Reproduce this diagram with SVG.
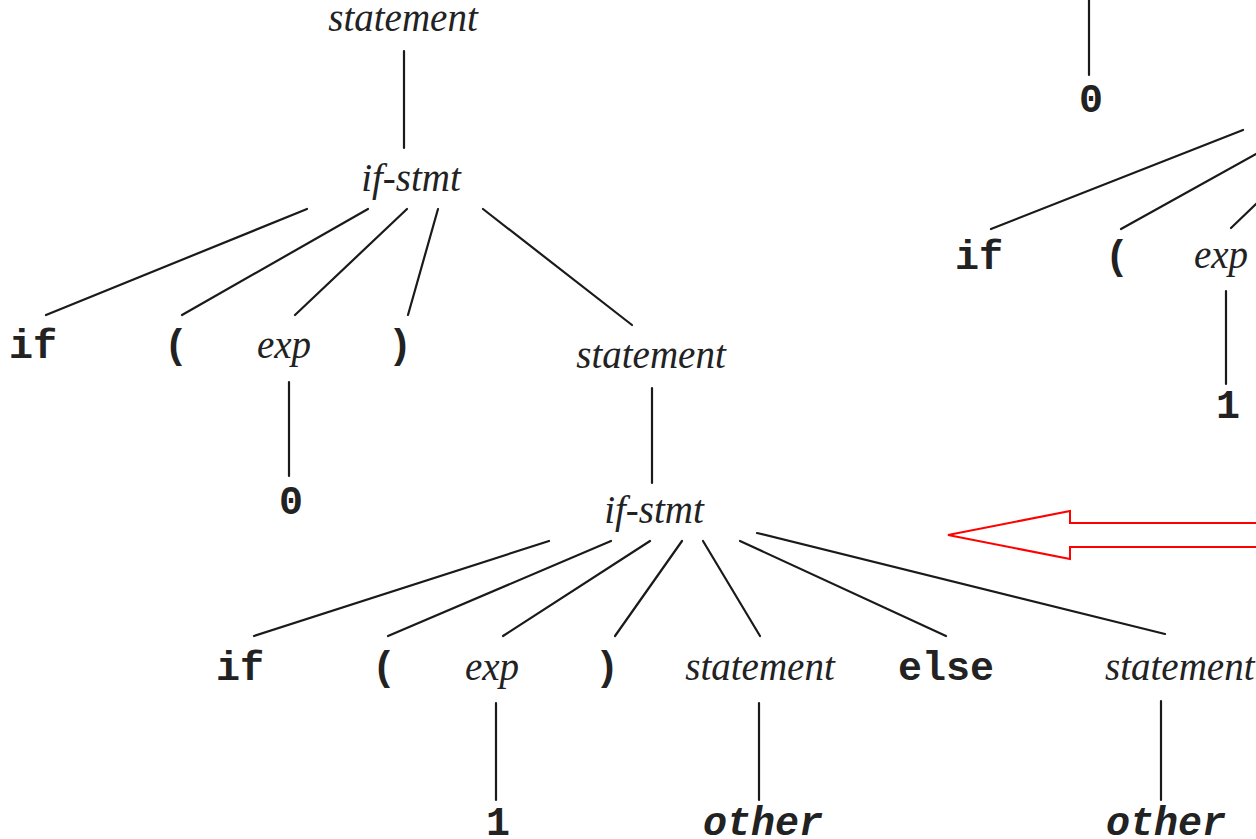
<svg xmlns="http://www.w3.org/2000/svg" width="1256" height="839" viewBox="0 0 1256 839">
<style>
.nt{font-family:"Liberation Serif",serif;font-style:italic;font-size:39px;fill:#222;text-anchor:middle}
.tk{font-family:"Liberation Mono",monospace;font-weight:bold;font-size:40px;fill:#222;text-anchor:middle}
.ot{font-family:"Liberation Mono",monospace;font-weight:bold;font-style:italic;font-size:40px;fill:#222;text-anchor:middle}
.c line{stroke:#1a1a1a;stroke-width:2.2;stroke-linecap:round}
</style>
<rect width="1256" height="839" fill="#ffffff"/>
<g id="connectors" class="c">
<line x1="404" y1="51" x2="404" y2="148"/>
<line x1="307" y1="209" x2="46" y2="315"/>
<line x1="368" y1="209" x2="182" y2="315"/>
<line x1="407" y1="209" x2="295" y2="315"/>
<line x1="438" y1="209" x2="408" y2="315"/>
<line x1="483" y1="209" x2="632" y2="325"/>
<line x1="289" y1="382" x2="289" y2="476"/>
<line x1="652" y1="388" x2="652" y2="483"/>
<line x1="549" y1="541" x2="254" y2="636"/>
<line x1="611" y1="541" x2="388" y2="636"/>
<line x1="650" y1="541" x2="503" y2="636"/>
<line x1="682" y1="541" x2="615" y2="636"/>
<line x1="703" y1="541" x2="760" y2="636"/>
<line x1="740" y1="541" x2="946" y2="636"/>
<line x1="757" y1="533" x2="1165" y2="634"/>
<line x1="496" y1="703" x2="496" y2="800"/>
<line x1="759" y1="703" x2="759" y2="800"/>
<line x1="1161" y1="701" x2="1161" y2="800"/>
<line x1="1089" y1="0" x2="1089" y2="75"/>
<line x1="1243" y1="130" x2="991" y2="229"/>
<line x1="1258" y1="153" x2="1121" y2="229"/>
<line x1="1258" y1="202" x2="1231" y2="228"/>
<line x1="1226" y1="291" x2="1226" y2="384"/>
</g>
<g id="n-statement-root"><text class="nt" x="403" y="31">statement</text></g>
<g id="n-ifstmt-1"><text class="nt" x="411" y="191">if-stmt</text></g>
<g id="n-if-1"><text class="tk" x="33" y="358">if</text></g>
<g id="n-lp-1"><text class="tk" x="176" y="358">(</text></g>
<g id="n-exp-1"><text class="nt" x="284" y="358">exp</text></g>
<g id="n-rp-1"><text class="tk" x="400" y="358">)</text></g>
<g id="n-zero-1"><text class="tk" x="291" y="514">0</text></g>
<g id="n-statement-2"><text class="nt" x="651" y="368">statement</text></g>
<g id="n-ifstmt-2"><text class="nt" x="654" y="523">if-stmt</text></g>
<g id="n-if-2"><text class="tk" x="240" y="680">if</text></g>
<g id="n-lp-2"><text class="tk" x="384" y="680">(</text></g>
<g id="n-exp-2"><text class="nt" x="492" y="680">exp</text></g>
<g id="n-rp-2"><text class="tk" x="607" y="680">)</text></g>
<g id="n-statement-3"><text class="nt" x="760" y="680">statement</text></g>
<g id="n-else"><text class="tk" x="946" y="680">else</text></g>
<g id="n-statement-4"><text class="nt" x="1105" y="680" style="text-anchor:start">statement</text></g>
<g id="n-one-1"><text class="tk" x="498" y="835">1</text></g>
<g id="n-other-1"><text class="ot" x="763" y="835">other</text></g>
<g id="n-other-2"><text class="ot" x="1166" y="835">other</text></g>
<g id="n-zero-r"><text class="tk" x="1091" y="112">0</text></g>
<g id="n-if-r"><text class="tk" x="979" y="269">if</text></g>
<g id="n-lp-r"><text class="tk" x="1117" y="269">(</text></g>
<g id="n-exp-r"><text class="nt" x="1221" y="268">exp</text></g>
<g id="n-one-r"><text class="tk" x="1228" y="418">1</text></g>
<g id="red-arrow"><polygon points="948,535 1070,511 1070,523 1262,523 1262,547 1070,547 1070,559" fill="none" stroke="#ff0000" stroke-width="2"/></g>
</svg>
